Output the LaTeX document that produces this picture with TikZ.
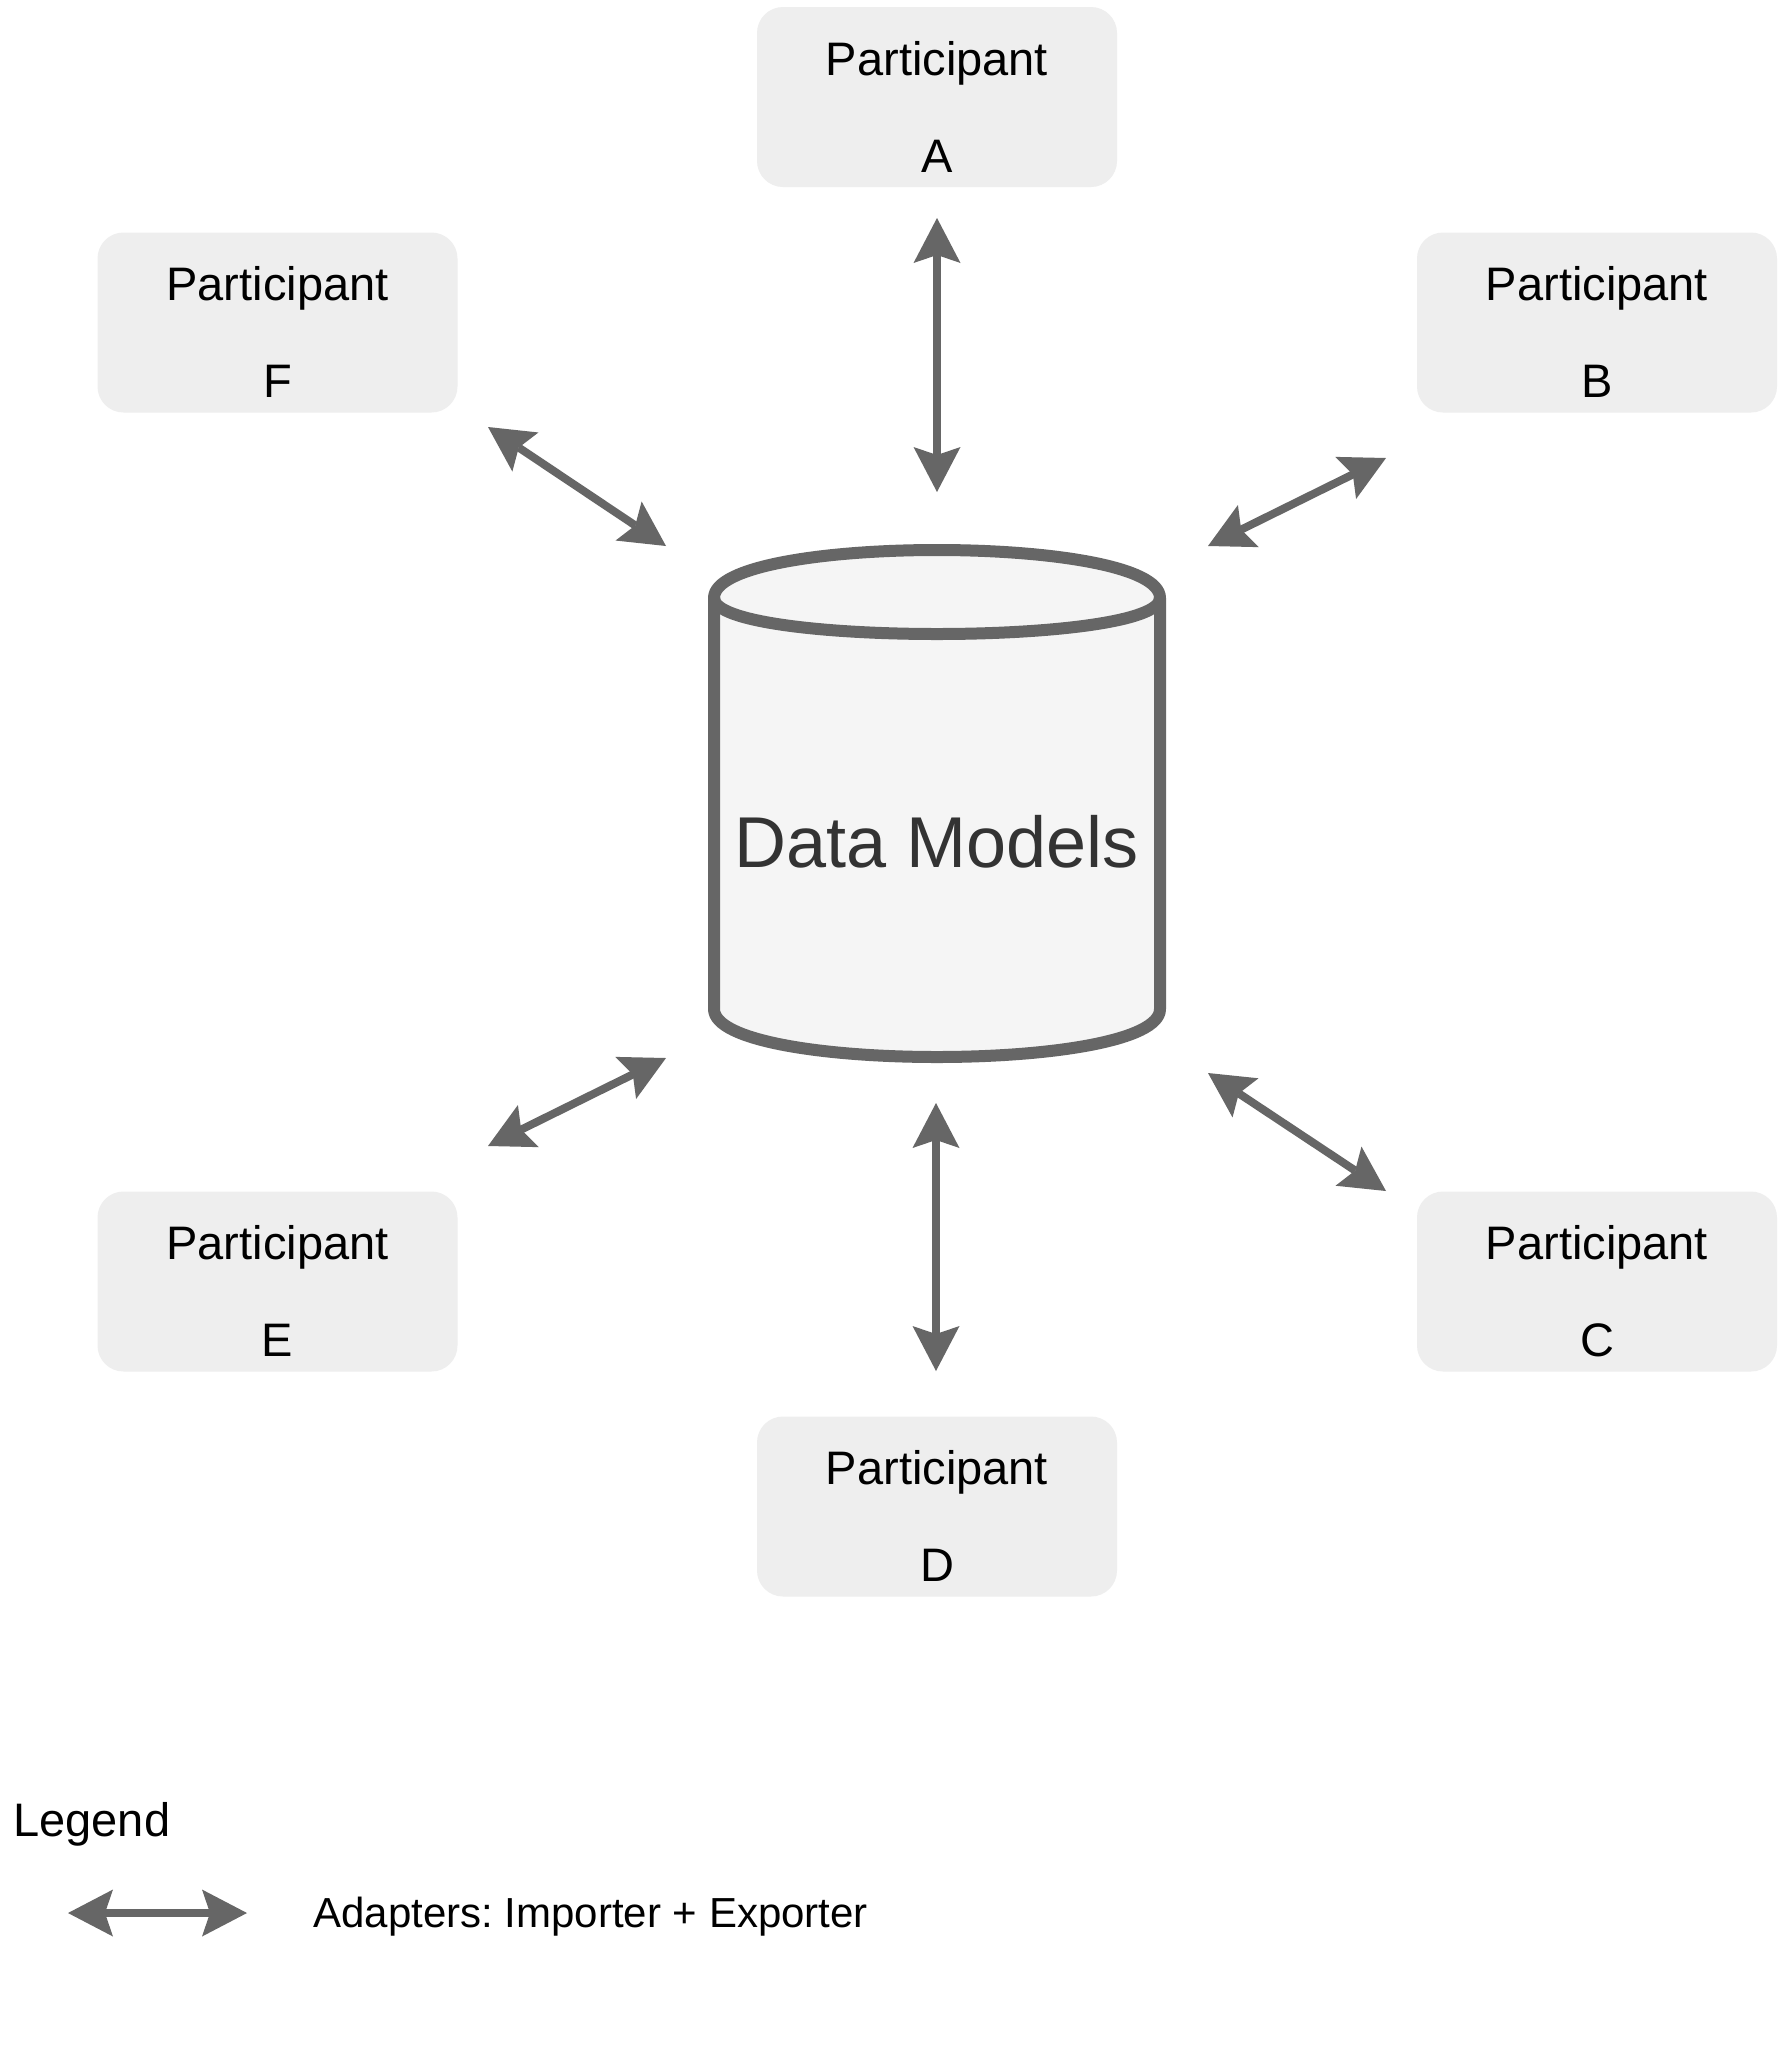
\documentclass[tikz,border=0pt]{standalone}
\usepackage{fontspec}
\setmainfont{Liberation Sans}
\usepackage{xcolor}
\definecolor{ColBox}{HTML}{EEEEEE}
\definecolor{ColEdge}{HTML}{666666}
\definecolor{ColDb}{HTML}{F5F5F5}
\definecolor{ColText}{HTML}{333333}
\usepackage{tikz}
\usetikzlibrary{arrows.meta}
\frenchspacing
\tikzstyle{Node}=[fill=ColBox,rounded corners=13pt,minimum width=180pt,
minimum height=90pt,inner sep=0pt,align=center,text height=82.5pt,
text depth=7.5pt,font=\fontsize{23.5pt}{48.5pt}\selectfont]
\tikzstyle{Edge}=[draw=ColEdge,line width=4pt,<->,
>={Stealth[length=22.5pt,width=23.5pt,inset=4pt,line width=0pt]}]
\tikzstyle{Base}=[draw=ColEdge,fill=ColDb,line width=6pt,line join=round]
\tikzstyle{NodeDb}=[text=ColText,inner sep=0pt,anchor=base,
font=\fontsize{36pt}{43pt}\selectfont]
\tikzstyle{NodeST}=[inner sep=0pt,anchor=base west]

\begin{document}
\begin{tikzpicture}[x=.5pt,y=-.5pt]
    \useasboundingbox[fill=white](0,0)rectangle(1782,2052);
        \node[Node](a)at(937,97){Participant\\A};
        \node[Node](b)at(1597,322.5){Participant\\B};
        \node[Node](c)at(1597,1281.5){Participant\\C};
        \node[Node](d)at(937,1506.5){Participant\\D};
        \node[Node](e)at(277.5,1281.5){Participant\\E};
        \node[Node](f)at(277.5,322.5){Participant\\F};
        % data models cylinder
        \draw[Base](714,598) .. controls (714,534) and (1160,534) .. (1160,598)
            --(1160,1009) .. controls (1160,1073) and (714,1073) .. (714,1009)
            --cycle;
        \draw[Base,fill=none](714,598) .. controls (714,646) and (1160,646)
            .. (1160,598);
        \node[NodeDb](dm)at(937,867){Data Models};
        \coordinate(a1)at(937,218);
        \coordinate(a2)at(937,492);
        \coordinate(b1)at(1386,458);
        \coordinate(b2)at(1208,546);
        \coordinate(c1)at(1386,1191);
        \coordinate(c2)at(1208,1073);
        \coordinate(d1)at(936,1371);
        \coordinate(d2)at(936,1103);
        \coordinate(e1)at(488,1146);
        \coordinate(e2)at(666,1058);
        \coordinate(f1)at(488,427);
        \coordinate(f2)at(666,546);
        \draw[Edge](a1)--(a2);
        \draw[Edge](b1)--(b2);
        \draw[Edge](c1)--(c2);
        \draw[Edge](d1)--(d2);
        \draw[Edge](e1)--(e2);
        \draw[Edge](f1)--(f2);
        % legend
        \node[NodeST,font=\fontsize{23.5pt}{28pt}\selectfont](leg)
            at(13,1836){Legend};
        \coordinate(l1)at(68,1913);
        \coordinate(l2)at(247,1913);
        \draw[Edge](l1)--(l2);
        \node[NodeST,font=\fontsize{21pt}{25pt}\selectfont](ad)
            at(313,1927){Adapters: Importer + Exporter};
    \end{tikzpicture}
\end{document}
